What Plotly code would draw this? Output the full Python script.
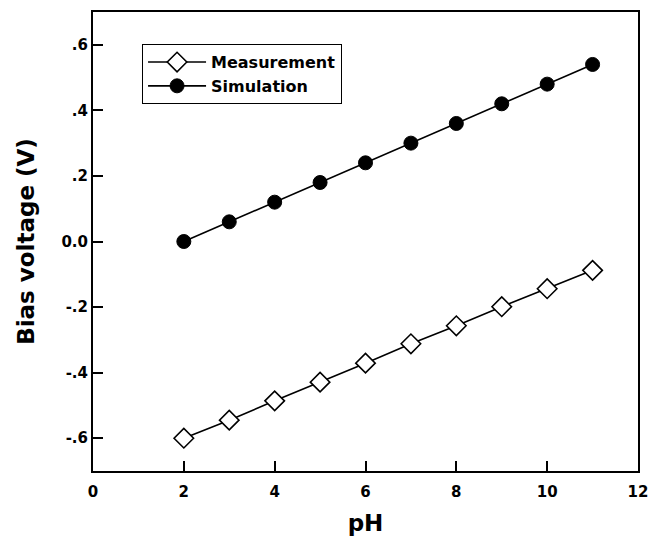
import plotly.graph_objects as go

ph = [2, 3, 4, 5, 6, 7, 8, 9, 10, 11]
measurement = [-0.600, -0.545, -0.486, -0.429, -0.371, -0.312, -0.257, -0.199, -0.144, -0.088]
simulation = [0.00, 0.06, 0.12, 0.18, 0.24, 0.30, 0.36, 0.42, 0.48, 0.54]

x_ticks = [0, 2, 4, 6, 8, 10, 12]
y_tickvals = [-0.6, -0.4, -0.2, 0.0, 0.2, 0.4, 0.6]
y_ticktext = ["-.6", "-.4", "-.2", "0.0", ".2", ".4", ".6"]

font_family = "DejaVu Sans, Liberation Sans, Arial, sans-serif"

fig = go.Figure()
fig.add_trace(go.Scatter(
    x=ph, y=measurement, name="Measurement", mode="lines+markers",
    line=dict(color="black", width=1.6),
    marker=dict(symbol="diamond", size=15, color="white",
                line=dict(color="black", width=1.6)),
))
fig.add_trace(go.Scatter(
    x=ph, y=simulation, name="Simulation", mode="lines+markers",
    line=dict(color="black", width=1.6),
    marker=dict(symbol="circle", size=14, color="black",
                line=dict(color="black", width=1)),
))

# the page body has an 8px margin, so margins are compensated
fig.update_layout(
    width=664, height=536,
    margin=dict(l=85, r=34, t=2, b=73),
    paper_bgcolor="white", plot_bgcolor="white",
    font=dict(family=font_family, color="black", size=15),
    showlegend=True,
    legend=dict(
        x=0.09, y=0.93, xanchor="left", yanchor="top",
        bordercolor="black", borderwidth=1, bgcolor="white",
        font=dict(family=font_family, size=16, color="black", weight="bold"),
        tracegroupgap=0, itemwidth=58,
    ),
    xaxis=dict(
        range=[0, 12], tickvals=x_ticks, ticks="inside", ticklen=10,
        tickwidth=1.5, tickcolor="black",
        showline=True, linecolor="black", linewidth=2, mirror=True,
        showgrid=False, zeroline=False, ticklabelstandoff=6,
        tickfont=dict(family=font_family, size=15, weight="bold"),
        title=dict(text="pH", font=dict(family=font_family, size=23, weight="bold"),
                   standoff=15),
    ),
    yaxis=dict(
        range=[-0.7, 0.7], tickvals=y_tickvals, ticktext=y_ticktext,
        ticks="inside", ticklen=10, tickwidth=1.5, tickcolor="black",
        showline=True, linecolor="black", linewidth=2, mirror=True,
        showgrid=False, zeroline=False,
        tickfont=dict(family=font_family, size=15, weight="bold"),
        title=dict(text="Bias voltage (V)",
                   font=dict(family=font_family, size=23, weight="bold"),
                   standoff=20),
    ),
)

fig.write_html("out.html")
